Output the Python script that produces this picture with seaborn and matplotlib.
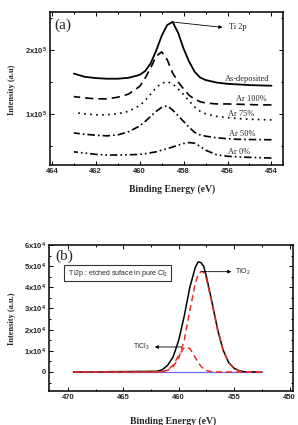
import matplotlib
matplotlib.use("Agg")
import matplotlib.pyplot as plt
import seaborn as sns  # line plots
import pandas as pd

# ---- panel (a): Ti 2p spectra, intensity in units of 1e5
energy_a = [463, 462.5, 462, 461.5, 461, 460.5, 460, 459.75, 459.5, 459.25, 459,
            458.75, 458.5, 458.25, 458, 457.75, 457.5, 457.25, 457, 456.5, 456,
            455.5, 455, 454.5, 454]
as_deposited = [1.63, 1.58, 1.56, 1.55, 1.55, 1.565, 1.61, 1.67, 1.79, 1.99, 2.22,
                2.39, 2.44, 2.27, 2.02, 1.82, 1.66, 1.57, 1.53, 1.49, 1.47,
                1.46, 1.45, 1.445, 1.44]
ar_100 = [1.27, 1.25, 1.235, 1.235, 1.26, 1.31, 1.43, 1.56, 1.72, 1.9, 1.97,
          1.85, 1.64, 1.5, 1.39, 1.29, 1.23, 1.19, 1.17, 1.155, 1.155,
          1.15, 1.145, 1.14, 1.14]
ar_75 = [1.02, 1.0, 0.985, 0.985, 1.0, 1.04, 1.13, 1.21, 1.31, 1.41, 1.48,
         1.505, 1.47, 1.39, 1.3, 1.2, 1.11, 1.04, 1.0, 0.96, 0.94,
         0.925, 0.915, 0.91, 0.905]
ar_50 = [0.7, 0.68, 0.665, 0.655, 0.67, 0.72, 0.81, 0.88, 0.96, 1.04, 1.1,
         1.125, 1.06, 0.97, 0.88, 0.79, 0.71, 0.67, 0.65, 0.625, 0.61,
         0.6, 0.598, 0.595, 0.594]
ar_0 = [0.405, 0.385, 0.365, 0.355, 0.355, 0.358, 0.365, 0.375, 0.39, 0.405, 0.43,
        0.455, 0.48, 0.51, 0.535, 0.55, 0.54, 0.49, 0.43, 0.36, 0.335,
        0.325, 0.318, 0.312, 0.307]
labels_a = ["As-deposited", "Ar 100%", "Ar 75%", "Ar 50%", "Ar 0%"]
label_y_a = [1.55, 1.23, 0.995, 0.69, 0.396]
label_x_a = [454.08, 454.2, 454.8, 454.75, 454.98]

# ---- panel (b): fitted Ti2p, intensity in units of 1e4
energy_b = [469.5, 462, 461.5, 461, 460.5, 460, 459.5, 459, 458.5, 458.25, 458,
            457.75, 457.5, 457, 456.5, 456, 455.5, 455, 454.5, 454, 452.5]
envelope = [0, 0.03, 0.1, 0.31, 0.72, 1.5, 2.65, 4.0, 4.95, 5.2, 5.17,
            5.0, 4.5, 3.3, 2.02, 1.04, 0.45, 0.17, 0.05, 0.01, 0]
tio2 = [0, 0, 0.02, 0.08, 0.25, 0.65, 1.5, 2.9, 4.2, 4.6, 4.75,
        4.72, 4.4, 3.25, 2.0, 1.03, 0.44, 0.16, 0.05, 0.01, 0]
ticl3 = [0, 0, 0.01, 0.09, 0.33, 0.78, 1.16, 1.11, 0.68, 0.45, 0.27,
         0.15, 0.07, 0.01, 0, 0, 0, 0, 0, 0, 0]
baseline = [0] * len(energy_b)

sns.set_style("ticks")
plt.rcParams['font.family'] = ['Liberation Sans', 'DejaVu Sans']
plt.rcParams['mathtext.fontset'] = 'custom'
plt.rcParams['mathtext.default'] = 'regular'

serif = ['Liberation Serif', 'DejaVu Serif']
tick_font = {'family': ['Liberation Sans'], 'weight': 'bold', 'size': 5.5}

fig = plt.figure(figsize=(2.98, 4.25), dpi=100)
ax1 = fig.add_axes([0.168, 0.612, 0.782, 0.3605])
ax2 = fig.add_axes([0.1644, 0.08, 0.8186, 0.3435])

# panel (a)
df_a = pd.DataFrame({"E": energy_a, "As-deposited": as_deposited, "Ar 100%": ar_100,
                     "Ar 75%": ar_75, "Ar 50%": ar_50, "Ar 0%": ar_0})
styles_a = {"As-deposited": '-', "Ar 100%": (0, (5, 3)), "Ar 75%": (0, (1, 2.6)),
            "Ar 50%": (0, (4.5, 1.8, 1, 1.8)), "Ar 0%": (0, (4.5, 1.8, 1, 1.8, 1, 1.8))}
for name in labels_a:
    sns.lineplot(x=df_a["E"], y=df_a[name] * 1e5, ax=ax1, color='black',
                 linestyle=styles_a[name], lw=1.2 if name != "As-deposited" else 1.3)
for name, lx, ly in zip(labels_a, label_x_a, label_y_a):
    ax1.text(lx, ly * 1e5, name, ha='right', va='center', family=serif, size=6)

ax1.annotate('', xy=(456.23, 2.354e5), xytext=(458.55, 2.44e5),
             arrowprops=dict(arrowstyle='-|>', lw=0.6, color='black', mutation_scale=5,
                             shrinkA=0, shrinkB=0))
ax1.text(455.95, 2.354e5, "Ti 2p", ha='left', va='center', family=serif, size=6)
ax1.text(0.02, 0.913, "(a)", transform=ax1.transAxes, ha='left', va='center',
         family=serif, size=11)

ax1.set_xlim(464.08, 453.47)
ax1.set_ylim(0.2e5, 2.6e5)
ax1.set_xticks([464, 462, 460, 458, 456, 454])
ax1.set_xticks([463, 461, 459, 457, 455], minor=True)
ax1.set_yticks([1e5, 2e5])
ax1.set_yticks([0.5e5, 1.5e5, 2.5e5], minor=True)
ax1.set_xticklabels(["464", "462", "460", "458", "456", "454"], fontdict=tick_font)
ax1.set_yticklabels(["1x10$^5$", "2x10$^5$"], fontdict=tick_font)
ax1.set_xlabel("Binding Energy (eV)", family=serif, weight='bold', size=7)
ax1.set_ylabel("Intensity (a.u)", family=serif, weight='bold', size=6)
ax1.xaxis.set_label_coords(0.524, -0.124)
ax1.yaxis.set_label_coords(-0.146, 0.49)

# panel (b)
df_b = pd.DataFrame({"E": energy_b, "base": baseline, "env": envelope,
                     "TiO2": tio2, "TiCl3": ticl3})
red = '#e4302b'
sns.lineplot(x=df_b["E"], y=df_b["base"] * 1e4, ax=ax2, color='#6a6af2', lw=0.9)
sns.lineplot(x=df_b["E"], y=df_b["env"] * 1e4, ax=ax2, color='black', lw=1.1)
sns.lineplot(x=df_b["E"], y=df_b["TiO2"] * 1e4, ax=ax2, color=red, lw=1.1,
             linestyle=(0, (4, 2.5)))
sns.lineplot(x=df_b["E"], y=df_b["TiCl3"] * 1e4, ax=ax2, color=red, lw=1.1,
             linestyle=(0, (4, 2.5)))

ax2.text(0.281, 0.806, " Ti2p : etched suface in pure Cl$_2$ ", transform=ax2.transAxes,
         ha='center', va='center', size=5,
         bbox=dict(boxstyle='square,pad=0.35', fc='white', ec='#333333', lw=0.8))
ax2.text(0.025, 0.925, "(b)", transform=ax2.transAxes, ha='left', va='center',
         family=serif, size=11)
ax2.annotate('', xy=(455.25, 4.74e4), xytext=(457.95, 4.74e4),
             arrowprops=dict(arrowstyle='-|>', lw=0.6, color='black', mutation_scale=5,
                             shrinkA=0, shrinkB=0))
ax2.text(454.9, 4.74e4, "TiO$_2$", ha='left', va='center', size=5)
ax2.annotate('', xy=(462.16, 1.18e4), xytext=(459.76, 1.18e4),
             arrowprops=dict(arrowstyle='-|>', lw=0.6, color='black', mutation_scale=5,
                             shrinkA=0, shrinkB=0))
ax2.text(462.6, 1.18e4, "TiCl$_3$", ha='right', va='center', size=5)

ax2.set_xlim(471.7, 449.7)
ax2.set_ylim(-0.9e4, 6e4)
ax2.set_xticks([470, 465, 460, 455, 450])
ax2.set_xticks([467.5, 462.5, 457.5, 452.5], minor=True)
ax2.set_yticks([0, 1e4, 2e4, 3e4, 4e4, 5e4, 6e4])
ax2.set_yticks([-0.5e4, 0.5e4, 1.5e4, 2.5e4, 3.5e4, 4.5e4, 5.5e4], minor=True)
ax2.set_xticklabels(["470", "465", "460", "455", "450"], fontdict=tick_font)
ax2.set_yticklabels(["0"] + ["%dx10$^4$" % i for i in range(1, 7)], fontdict=tick_font)
ax2.set_xlabel("Binding Energy (eV)", family=serif, weight='bold', size=7)
ax2.set_ylabel("Intensity (a.u.)", family=serif, weight='bold', size=6)
ax2.xaxis.set_label_coords(0.508, -0.171)
ax2.yaxis.set_label_coords(-0.137, 0.493)

for ax in (ax1, ax2):
    ax.tick_params(which='both', direction='in', top=True, right=True, width=0.7,
                   pad=2, color='black')
    ax.tick_params(which='major', length=3)
    ax.tick_params(which='minor', length=1.6)
    for sp in ax.spines.values():
        sp.set_linewidth(1.1)
        sp.set_color('black')

plt.savefig("out.png", dpi=100)
